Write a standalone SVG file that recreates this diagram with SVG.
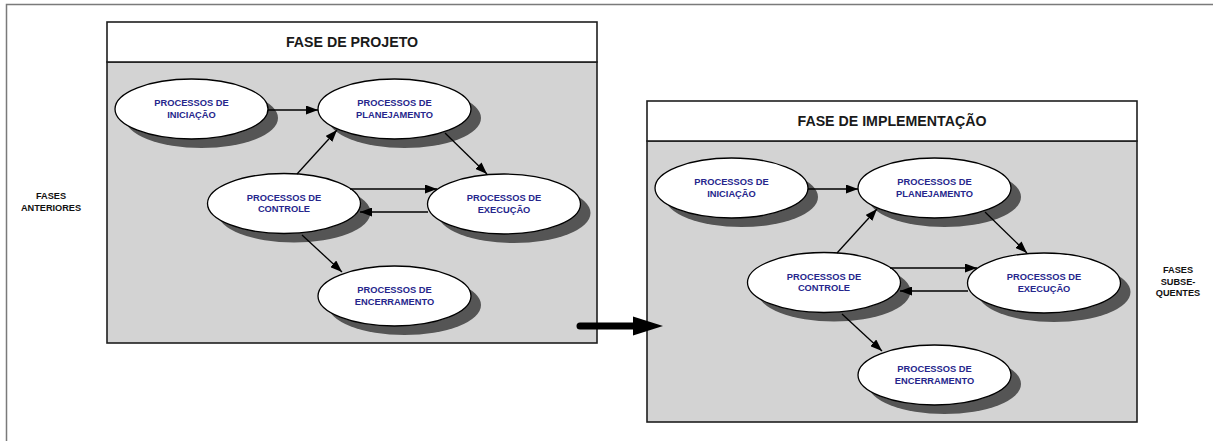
<svg xmlns="http://www.w3.org/2000/svg" width="1213" height="441" viewBox="0 0 1213 441">
  <style>
    .frame { fill: none; stroke: #7a7a7a; stroke-width: 1.5; }
    .panel { fill: #d3d3d3; stroke: #1e1e1e; stroke-width: 1.6; }
    .head { fill: #ffffff; stroke: #1e1e1e; stroke-width: 1.6; }
    .title { font-family: "Liberation Sans", Arial, sans-serif; font-weight: bold; font-size: 14.2px; fill: #1a1a1a; text-anchor: middle; }
    .shadow { fill: #555555; }
    .oval { fill: #ffffff; stroke: #000000; stroke-width: 1.3; }
    .lbl { font-family: "Liberation Sans", Arial, sans-serif; font-weight: bold; font-size: 9.3px; fill: #26268c; text-anchor: middle; }
    .side { font-family: "Liberation Sans", Arial, sans-serif; font-weight: bold; font-size: 9.2px; fill: #111111; text-anchor: middle; }
    .link { stroke: #000000; stroke-width: 1.3; fill: none; marker-end: url(#head); }
  </style>
  <defs>
    <marker id="head" markerUnits="userSpaceOnUse" markerWidth="12" markerHeight="9" refX="12" refY="4.5" orient="auto">
      <path d="M0,0 L12,4.5 L0,9 Z" fill="#000000"/>
    </marker>
    <!-- one process oval with its drop shadow, centred on 0,0 -->
    <g id="oval">
      <ellipse class="shadow" cx="10" cy="9" rx="76.5" ry="30"/>
      <ellipse class="oval" cx="0" cy="0" rx="76.5" ry="30"/>
    </g>
    <!-- the five-process cycle used inside each phase -->
    <g id="cycle">
      <g id="n-iniciacao">
        <use href="#oval" x="191.5" y="109"/>
        <text class="lbl" x="191.5" y="106">PROCESSOS DE</text>
        <text class="lbl" x="191.5" y="117.5">INICIAÇÃO</text>
      </g>
      <g id="n-planejamento">
        <use href="#oval" x="394.5" y="109"/>
        <text class="lbl" x="394.5" y="106">PROCESSOS DE</text>
        <text class="lbl" x="394.5" y="117.5">PLANEJAMENTO</text>
      </g>
      <g id="n-controle">
        <use href="#oval" x="284" y="203.5"/>
        <text class="lbl" x="284" y="200.5">PROCESSOS DE</text>
        <text class="lbl" x="284" y="212">CONTROLE</text>
      </g>
      <g id="n-execucao">
        <use href="#oval" x="504" y="204"/>
        <text class="lbl" x="504" y="201">PROCESSOS DE</text>
        <text class="lbl" x="504" y="212.5">EXECUÇÃO</text>
      </g>
      <g id="n-encerramento">
        <use href="#oval" x="394.5" y="296"/>
        <text class="lbl" x="394.5" y="293">PROCESSOS DE</text>
        <text class="lbl" x="394.5" y="304.5">ENCERRAMENTO</text>
      </g>
      <g id="links">
        <line class="link" x1="268" y1="110" x2="318" y2="110"/>
        <line class="link" x1="297" y1="174" x2="337" y2="130"/>
        <line class="link" x1="445" y1="133" x2="487" y2="174"/>
        <line class="link" x1="350" y1="189" x2="437" y2="189"/>
        <line class="link" x1="428" y1="212" x2="360" y2="212"/>
        <line class="link" x1="302" y1="235" x2="342" y2="272"/>
      </g>
    </g>
  </defs>

  <!-- page frame -->
  <path class="frame" d="M6.5,441 L6.5,4.5 L1213,4.5"/>

  <!-- side notes -->
  <g id="fases-anteriores">
    <text class="side" x="51" y="199">FASES</text>
    <text class="side" x="51" y="211">ANTERIORES</text>
  </g>
  <g id="fases-subsequentes">
    <text class="side" x="1178" y="273">FASES</text>
    <text class="side" x="1178" y="284.5">SUBSE-</text>
    <text class="side" x="1178" y="296">QUENTES</text>
  </g>

  <!-- project phase -->
  <g id="fase-projeto">
    <rect class="panel" x="107" y="62" width="490" height="281"/>
    <rect class="head" x="107" y="22" width="490" height="40"/>
    <text class="title" x="352" y="47">FASE DE PROJETO</text>
    <use href="#cycle"/>
  </g>

  <!-- implementation phase -->
  <g id="fase-implementacao">
    <rect class="panel" x="647" y="141" width="490" height="281"/>
    <rect class="head" x="647" y="101" width="490" height="40"/>
    <text class="title" x="892" y="126">FASE DE IMPLEMENTAÇÃO</text>
    <use href="#cycle" x="540" y="79"/>
  </g>

  <!-- hand-over arrow between phases -->
  <g id="connectors">
    <line x1="580" y1="326" x2="640" y2="326" stroke="#000000" stroke-width="7" stroke-linecap="round"/>
    <path d="M633,316.5 L663,326 L633,335.5 Z" fill="#000000"/>
  </g>
</svg>
